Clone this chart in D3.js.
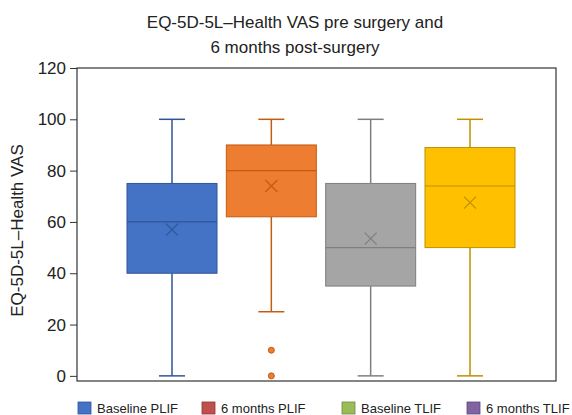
<!DOCTYPE html>
<html>
<head>
<meta charset="utf-8">
<script src="https://cdn.jsdelivr.net/npm/d3@7"></script>
<style>
  body { margin: 0; background: #fff; }
  svg { font-family: "Liberation Sans", Arial, sans-serif; }
</style>
</head>
<body>
<div id="root"></div>
<script>
// chart data
const groups = ['Baseline PLIF', '6 months PLIF', 'Baseline TLIF', '6 months TLIF'];
const minValues = [0, 25, 0, 0];
const q1Values = [40, 62, 35, 50];
const medianValues = [60, 80, 50, 74];
const q3Values = [75, 90, 75, 89];
const maxValues = [100, 100, 100, 100];
const meanValues = [57, 74, 53.5, 67.5];
const outlierValues = [[], [10, 0], [], []];
const yTicks = [0, 20, 40, 60, 80, 100, 120];

const boxFill = ['#4472c4', '#ed7d31', '#a5a5a5', '#ffc000'];
const boxLine = ['#2f5597', '#c55a11', '#7f7f7f', '#bf9000'];
// legend uses the older office palette, like the original
const legendFill = ['#4472c4', '#c0504d', '#9bbb59', '#8064a2'];
const legendLine = ['#2f5597', '#8c3836', '#71893f', '#5c4776'];

const width = 572, height = 415;

let svg = d3.select('#root')
    .append('svg')
    .attr('width', width)
    .attr('height', height);

let plotLeft = 77, plotRight = 556, plotTop = 68, plotBottom = 381;

let y = d3.scaleLinear().domain([-2, 120]).range([plotBottom, plotTop]);
let x = d3.scalePoint().domain(groups).range([172, 470]);
let boxWidth = 90, capWidth = 26;

// frame
svg.append('rect')
    .attr('x', plotLeft)
    .attr('y', plotTop)
    .attr('width', plotRight - plotLeft)
    .attr('height', plotBottom - plotTop)
    .style('fill', 'none')
    .style('stroke', '#333')
    .style('stroke-width', 1.2);

// y axis
let yAxis = svg.append('g')
    .attr('transform', `translate(${plotLeft},0)`)
    .call(d3.axisLeft(y).tickValues(yTicks).tickSize(7).tickPadding(4));
yAxis.select('.domain').remove();
yAxis.selectAll('line').style('stroke', '#333');
yAxis.selectAll('text')
    .style('font-size', '17px')
    .style('font-family', '"Liberation Sans", Arial, sans-serif')
    .style('fill', '#222');

svg.append('text')
    .attr('transform', `translate(23,${(plotTop + plotBottom) / 2 + 6}) rotate(-90)`)
    .attr('text-anchor', 'middle')
    .style('font-size', '17px')
    .style('fill', '#222')
    .text('EQ-5D-5L–Health VAS');

// title
let title = svg.append('text')
    .attr('text-anchor', 'middle')
    .style('font-size', '17px')
    .style('fill', '#222');
title.append('tspan').attr('x', 295).attr('y', 28).text('EQ-5D-5L–Health VAS pre surgery and');
title.append('tspan').attr('x', 295).attr('y', 53).text('6 months post-surgery');

// boxes
let boxes = svg.append('g')
    .selectAll('.box')
    .data(groups)
    .enter()
    .append('g')
    .attr('class', 'box');

boxes.each(function(g, i) {
    let sel = d3.select(this),
        cx = x(g);

    // whiskers
    sel.append('line')
        .attr('x1', cx).attr('x2', cx)
        .attr('y1', y(maxValues[i])).attr('y2', y(q3Values[i]))
        .style('stroke', boxLine[i]).style('stroke-width', 1.5);
    sel.append('line')
        .attr('x1', cx).attr('x2', cx)
        .attr('y1', y(q1Values[i])).attr('y2', y(minValues[i]))
        .style('stroke', boxLine[i]).style('stroke-width', 1.5);
    [maxValues[i], minValues[i]].forEach((v) => {
        sel.append('line')
            .attr('x1', cx - capWidth / 2).attr('x2', cx + capWidth / 2)
            .attr('y1', y(v)).attr('y2', y(v))
            .style('stroke', boxLine[i]).style('stroke-width', 1.5);
    });

    sel.append('rect')
        .attr('x', cx - boxWidth / 2)
        .attr('y', y(q3Values[i]))
        .attr('width', boxWidth)
        .attr('height', y(q1Values[i]) - y(q3Values[i]))
        .style('fill', boxFill[i])
        .style('stroke', boxLine[i])
        .style('stroke-width', 1);

    sel.append('line')
        .attr('x1', cx - boxWidth / 2).attr('x2', cx + boxWidth / 2)
        .attr('y1', y(medianValues[i])).attr('y2', y(medianValues[i]))
        .style('stroke', boxLine[i]).style('stroke-width', 1.2);

    // mean marker
    let my = y(meanValues[i]), s = 6;
    sel.append('path')
        .attr('d', `M${cx - s},${my - s}L${cx + s},${my + s}M${cx - s},${my + s}L${cx + s},${my - s}`)
        .style('stroke', boxLine[i]).style('stroke-width', 1.2).style('fill', 'none');

    outlierValues[i].forEach((v) => {
        sel.append('circle')
            .attr('cx', cx).attr('cy', y(v)).attr('r', 3)
            .style('fill', boxFill[i])
            .style('stroke', boxLine[i]);
    });
});

// legend
let legendX = [78, 202, 342, 467];
let legend = svg.append('g')
    .selectAll('.legendItem')
    .data(groups)
    .enter()
    .append('g')
    .attr('class', 'legendItem')
    .attr('transform', (d, i) => `translate(${legendX[i]},402)`);

legend.append('rect')
    .attr('width', 13).attr('height', 12)
    .style('fill', (d, i) => legendFill[i])
    .style('stroke', (d, i) => legendLine[i])
    .style('stroke-width', 0.8);

legend.append('text')
    .attr('x', 19).attr('y', 11)
    .style('font-size', '13px')
    .style('fill', '#222')
    .text((d) => d);
</script>
</body>
</html>
